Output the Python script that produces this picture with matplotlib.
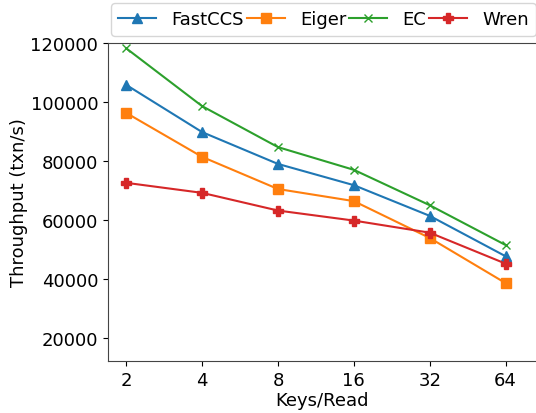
import matplotlib
matplotlib.use("Agg")
import matplotlib.pyplot as plt

# Data
keys = ["2", "4", "8", "16", "32", "64"]
fastccs = [105800, 89800, 79000, 71800, 61400, 47700]
eiger = [96300, 81400, 70500, 66400, 53900, 38600]
ec = [118200, 98600, 84700, 77000, 65000, 51500]
wren = [72600, 69200, 63200, 59800, 55700, 45200]

plt.rcParams["font.family"] = ["DejaVu Sans"]
plt.rcParams["font.size"] = 13

fig = plt.figure(figsize=(5.36, 4.14), dpi=100)
ax = fig.add_axes([108 / 536, 52 / 414, 428 / 536, 318 / 414])

x = range(len(keys))
ax.plot(x, fastccs, marker="^", color="tab:blue", label="FastCCS", markersize=6.5)
ax.plot(x, eiger, marker="s", color="tab:orange", label="Eiger", markersize=6.5)
ax.plot(x, ec, marker="x", color="tab:green", label="EC", markersize=6)
ax.plot(x, wren, marker="P", color="tab:red", label="Wren", markersize=6.5)

ax.set_xticks(list(x))
ax.set_xticklabels(keys)
ax.set_xlim(-0.24, 5.4)
ax.set_ylim(12200, 120000)
ax.set_yticks([20000, 40000, 60000, 80000, 100000, 120000])
ax.set_xlabel("Keys/Read", labelpad=2)
ax.set_ylabel("Throughput (txn/s)", labelpad=2)

for s in ax.spines.values():
    s.set_color("#444444")
ax.spines["right"].set_visible(False)

fig.legend(loc="upper right", bbox_to_anchor=(1.0, 0.99),
           ncol=4, fontsize=13, handlelength=2.1, columnspacing=0.15,
           borderaxespad=0.0, handletextpad=0.85, frameon=True)

fig.savefig("out.png", dpi=100)
